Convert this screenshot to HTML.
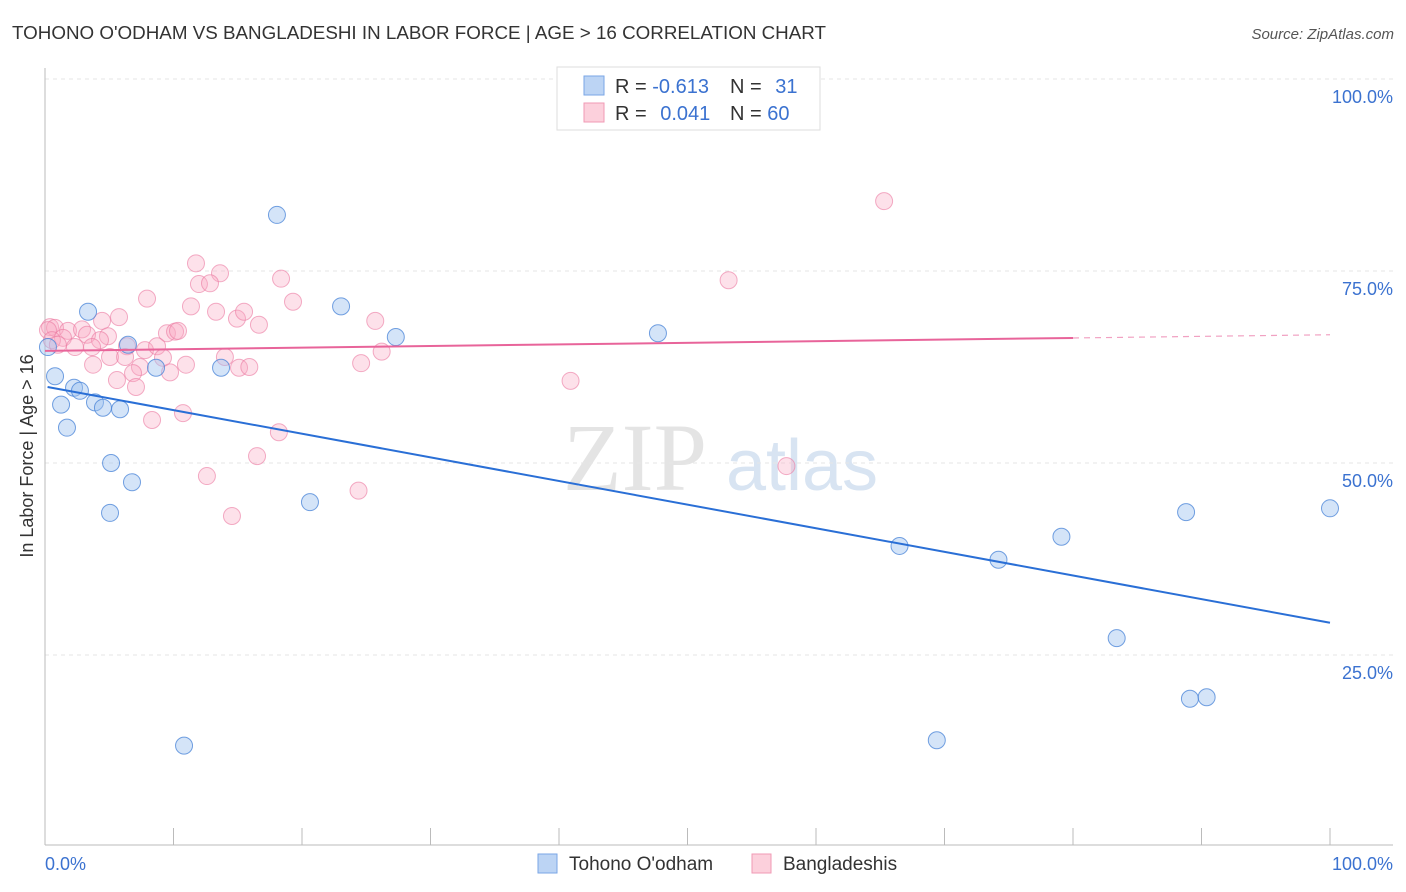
<!DOCTYPE html>
<html><head><meta charset="utf-8"><style>
body{margin:0;background:#fff;font-family:"Liberation Sans",sans-serif;}
svg{display:block}
</style></head><body>
<svg id="chart" width="1406" height="892" xmlns="http://www.w3.org/2000/svg">
<text x="12" y="39" font-size="18" fill="#333" textLength="814" lengthAdjust="spacingAndGlyphs">TOHONO O'ODHAM VS BANGLADESHI IN LABOR FORCE | AGE &gt; 16 CORRELATION CHART</text>
<text x="1394" y="39" font-size="15" fill="#555" font-style="italic" text-anchor="end">Source: ZipAtlas.com</text>
<g>
<text x="635" y="490" font-size="96" font-family="Liberation Serif,serif" fill="#e4e4e4" text-anchor="middle">ZIP</text>
<text x="802" y="490" font-size="72" fill="#d8e4f2" text-anchor="middle">atlas</text>
</g>
<g id="grid"></g>
<g id="axes"></g>
<g id="marks"></g>
<text transform="translate(33,456) rotate(-90)" font-size="18" fill="#333" text-anchor="middle">In Labor Force | Age &gt; 16</text>
<g>
<rect x="557" y="67" width="263" height="63" fill="#fff" stroke="#ddd"/>
<rect x="584" y="76" width="20" height="19" fill="#bcd4f4" stroke="#7aa6e6"/>
<rect x="584" y="103" width="20" height="19" fill="#fcd0dc" stroke="#f09ab4"/>
<text x="615" y="93" font-size="20" fill="#333">R = <tspan fill="#3b72d0">-0.613</tspan></text>
<text x="730" y="93" font-size="20" fill="#333">N = <tspan fill="#3b72d0" dx="8">31</tspan></text>
<text x="615" y="120" font-size="20" fill="#333">R = <tspan fill="#3b72d0" dx="8">0.041</tspan></text>
<text x="730" y="120" font-size="20" fill="#333">N = <tspan fill="#3b72d0">60</tspan></text>
</g>
<g>
<rect x="538" y="854" width="19" height="19" fill="#bcd4f4" stroke="#7aa6e6"/>
<text x="569" y="870" font-size="19" fill="#333">Tohono O'odham</text>
<rect x="752" y="854" width="19" height="19" fill="#fcd0dc" stroke="#f09ab4"/>
<text x="783" y="870" font-size="19" fill="#333">Bangladeshis</text>
</g>
</svg>
<script>
const blueX=[0.23,0.78,1.25,1.71,2.26,2.72,3.35,3.89,4.51,5.14,5.06,5.84,6.46,6.77,8.64,10.82,13.7,18.05,20.62,23.04,27.3,47.7,66.5,69.4,74.2,79.1,83.4,88.8,89.1,90.4,100];
const blueY=[65.1,61.3,57.6,54.6,59.8,59.4,69.7,57.9,57.2,50.0,43.5,57.0,65.4,47.5,62.4,13.2,62.4,82.3,44.9,70.4,66.4,66.9,39.2,13.9,37.4,40.4,27.2,43.6,19.3,19.5,44.1];
const pinkX=[11.75,13.62,11.98,12.84,18.37,7.94,19.3,11.36,13.31,14.94,15.49,16.65,25.7,5.76,4.44,0.39,0.78,1.79,2.88,3.27,4.9,4.28,9.49,10.12,10.35,1.4,2.33,3.66,6.38,7.78,8.72,5.06,6.23,9.18,14.0,26.2,3.74,7.39,10.97,24.6,15.1,15.9,6.85,9.73,5.6,7.08,8.33,10.74,18.2,16.5,12.6,24.4,14.55,65.3,53.2,40.9,57.7,0.23,0.54,1.0];
const pinkY=[76.0,74.7,73.3,73.4,74.0,71.4,71.0,70.4,69.7,68.8,69.7,68.0,68.5,69.0,68.5,67.7,67.6,67.2,67.4,66.7,66.5,66.0,66.9,67.1,67.2,66.3,65.1,65.1,65.2,64.7,65.2,63.8,63.8,63.7,63.8,64.5,62.8,62.5,62.8,63.0,62.4,62.5,61.7,61.8,60.8,59.9,55.6,56.5,54.0,50.9,48.3,46.4,43.1,84.1,73.8,60.7,49.6,67.3,66.0,65.4];
const blueTrend=[59.9,29.2];
const pinkTrend=[64.6,66.7];
const yTicks=[25,50,75,100];
const xTicks=[0,10,20,30,40,50,60,70,80,90,100];
const NS='http://www.w3.org/2000/svg';
const sx=v=>45+v*12.85;
const sy=v=>847-v*7.68;
function mk(t,a,p){const e=document.createElementNS(NS,t);for(const k in a)e.setAttribute(k,a[k]);p.appendChild(e);return e;}
const grid=document.getElementById('grid'),axes=document.getElementById('axes'),marks=document.getElementById('marks');
yTicks.forEach(v=>{
 const l=mk('line',{x1:45,x2:1393,y1:sy(v),y2:sy(v),stroke:'#e6e6e6','stroke-dasharray':'4,4'},grid);
 
 
 const t=mk('text',{x:1393,y:sy(v)+24,'font-size':18,fill:'#3b72d0','text-anchor':'end'},axes);
 t.textContent=v+'.0%';
 
 
});
const ya=mk('line',{x1:45,x2:45,y1:68,y2:845,stroke:'#bbb'},axes);


const xa=mk('line',{x1:45,x2:1393,y1:845,y2:845,stroke:'#bbb'},axes);


xTicks.forEach(v=>{
 const l=mk('line',{x1:sx(v),x2:sx(v),y1:828,y2:845,stroke:'#bbb'},axes);
 
 
});
[[0,'0.0%','start'],[100,'100.0%','end']].forEach(([v,s,a])=>{
 const t=mk('text',{x:v===0?45:1393,y:870,'font-size':18,fill:'#3b72d0','text-anchor':a},axes);
 t.textContent=s;
 
 
});
pinkX.forEach((x,i)=>{
 const c=mk('circle',{cx:sx(x),cy:sy(pinkY[i]),r:8.5,fill:'rgba(248,170,195,0.35)',stroke:'rgba(235,120,160,0.6)','stroke-width':1},marks);
 
 
});
blueX.forEach((x,i)=>{
 const c=mk('circle',{cx:sx(x),cy:sy(blueY[i]),r:8.5,fill:'rgba(160,195,240,0.45)',stroke:'rgba(70,130,215,0.75)','stroke-width':1},marks);
 
 
});
const bt=mk('line',{x1:sx(0.2),y1:sy(blueTrend[0]),x2:sx(100),y2:sy(blueTrend[1]),stroke:'#2a6fd6','stroke-width':2},marks);


const pAt=v=>pinkTrend[0]+(pinkTrend[1]-pinkTrend[0])*v/100;
const pt=mk('line',{x1:sx(0),y1:sy(pAt(0)),x2:sx(80),y2:sy(pAt(80)),stroke:'#e8649a','stroke-width':2},marks);


const pd=mk('line',{x1:sx(80),y1:sy(pAt(80)),x2:sx(100),y2:sy(pAt(100)),stroke:'#e8649a','stroke-width':1.2,'stroke-dasharray':'6,5',opacity:0.6},marks);


</script>
</body></html>
